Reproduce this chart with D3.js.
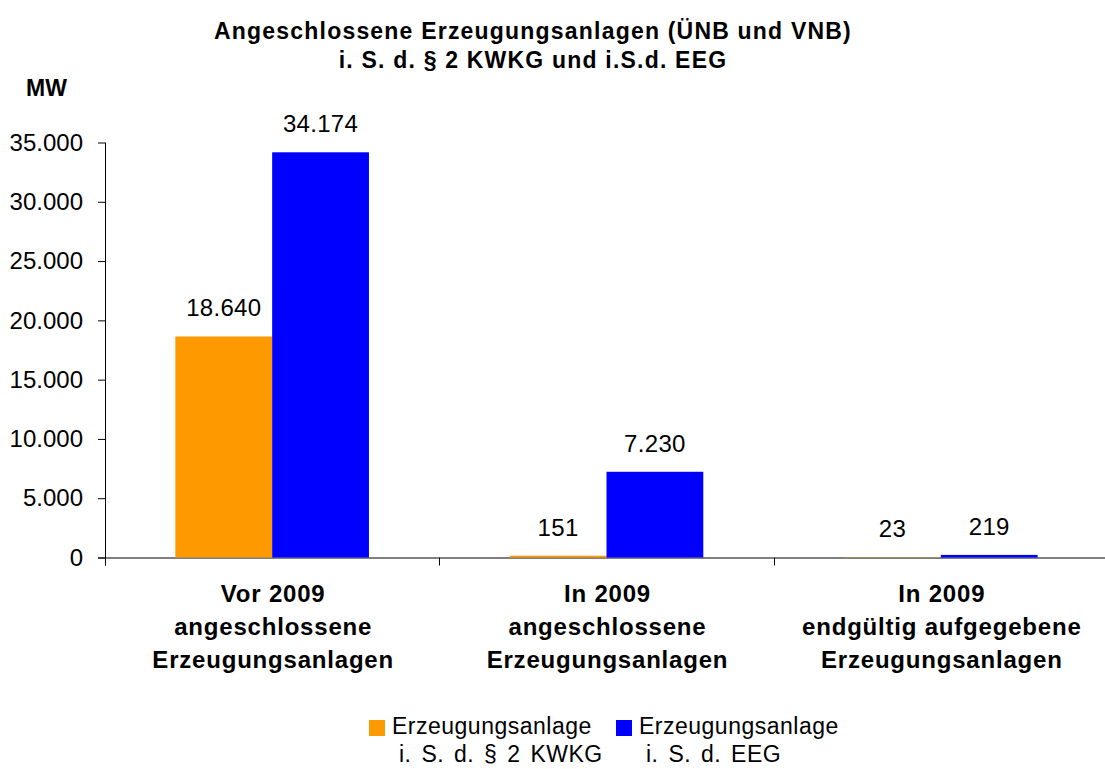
<!DOCTYPE html>
<html>
<head>
<meta charset="utf-8">
<script src="https://cdn.jsdelivr.net/npm/d3@7"></script>
<style>
  body { margin: 0; background: #fff; }
  text { font-family: "Liberation Sans", Arial, sans-serif; fill: #000; }
</style>
</head>
<body>
<div id="chart"></div>
<script>
var categories = [
  ["Vor 2009", "angeschlossene", "Erzeugungsanlagen"],
  ["In 2009", "angeschlossene", "Erzeugungsanlagen"],
  ["In 2009", "endgültig aufgegebene", "Erzeugungsanlagen"]
];
var seriesNames = [
  ["Erzeugungsanlage", "i. S. d. § 2 KWKG"],
  ["Erzeugungsanlage", "i. S. d. EEG"]
];
var kwkg = [18640, 151, 23];
var eeg = [34174, 7230, 219];
var yTicks = [0, 5000, 10000, 15000, 20000, 25000, 30000, 35000];
var colors = ["#FF9900", "#0000FF"];

var svg = d3.select("#chart")
  .append("svg")
  .attr("width", 1105)
  .attr("height", 769);

var margin = {top: 142.5, right: -3, bottom: 211.5, left: 105},
    width = +svg.attr("width"),
    height = +svg.attr("height");

var fmt = function(v) { return d3.format(",")(v).replace(/,/g, "."); };

var x = d3.scaleBand()
    .domain(d3.range(categories.length))
    .range([margin.left, width - margin.right])
    .padding(0);

var xs = d3.scaleBand()
    .domain([0, 1])
    .range([0, x.bandwidth()])
    .paddingInner(0)
    .paddingOuter(0.727);

var y = d3.scaleLinear()
    .domain([0, 35000])
    .range([height - margin.bottom, margin.top]);

// title
svg.append("text")
    .attr("x", 533)
    .attr("y", 39)
    .attr("text-anchor", "middle")
    .attr("font-size", 23)
    .attr("font-weight", "bold")
    .attr("letter-spacing", 1.2)
    .selectAll("tspan")
    .data(["Angeschlossene Erzeugungsanlagen (ÜNB und VNB)", "i. S. d. § 2 KWKG und i.S.d. EEG"])
    .enter().append("tspan")
      .attr("x", 533)
      .attr("dy", function(d, i) { return i ? 29 : 0; })
      .text(function(d) { return d; });

svg.append("text")
    .attr("x", 26)
    .attr("y", 96)
    .attr("font-size", 23)
    .attr("font-weight", "bold")
    .text("MW");

// y axis
var yAxis = svg.append("g")
    .attr("transform", "translate(" + margin.left + ",0)")
    .call(d3.axisLeft(y).tickValues(yTicks).tickFormat(fmt).tickSize(7).tickPadding(15));
yAxis.select(".domain").attr("d", "M0.5," + y(35000) + "V" + (y(0) + 8));
yAxis.selectAll("text")
    .attr("font-size", 24)
    .attr("font-family", null);

// x axis
var xAxis = svg.append("g")
    .attr("transform", "translate(0," + y(0) + ")");
xAxis.append("line")
    .attr("x1", margin.left - 7).attr("x2", width)
    .attr("y1", 0.5).attr("y2", 0.5)
    .attr("stroke", "#000");
xAxis.selectAll("line.tick")
    .data(d3.range(categories.length))
    .enter().append("line")
      .attr("class", "tick")
      .attr("x1", function(d) { return Math.round(x(d)) + 0.5; })
      .attr("x2", function(d) { return Math.round(x(d)) + 0.5; })
      .attr("y1", 0).attr("y2", 8)
      .attr("stroke", "#000");

// bars
var groups = svg.selectAll("g.grp")
    .data(categories.map(function(c, i) { return [kwkg[i], eeg[i]]; }))
    .enter().append("g")
      .attr("class", "grp")
      .attr("transform", function(d, i) { return "translate(" + x(i) + ",0)"; });

groups.selectAll("rect")
    .data(function(d) { return d; })
    .enter().append("rect")
      .attr("x", function(d, j) { return xs(j); })
      .attr("y", function(d) { return y(d); })
      .attr("width", xs.bandwidth())
      .attr("height", function(d) { return y(0) - y(d); })
      .attr("fill", function(d, j) { return colors[j]; });

groups.selectAll("text.val")
    .data(function(d) { return d; })
    .enter().append("text")
      .attr("class", "val")
      .attr("x", function(d, j) { return xs(j) + xs.bandwidth() / 2; })
      .attr("y", function(d) { return y(d) - 20; })
      .attr("text-anchor", "middle")
      .attr("font-size", 24)
      .attr("letter-spacing", 0.3)
      .text(fmt);

// category labels
svg.selectAll("text.cat")
    .data(categories)
    .enter().append("text")
      .attr("class", "cat")
      .attr("text-anchor", "middle")
      .attr("font-size", 24)
      .attr("font-weight", "bold")
      .attr("letter-spacing", 0.8)
      .attr("y", 602)
      .each(function(lines, i) {
        d3.select(this).selectAll("tspan")
          .data(lines)
          .enter().append("tspan")
            .attr("x", x(i) + x.bandwidth() / 2 + 1)
            .attr("dy", function(d, k) { return k ? 33 : 0; })
            .text(function(d) { return d; });
      });

// legend
var legend = svg.selectAll("g.leg")
    .data(seriesNames)
    .enter().append("g")
      .attr("class", "leg")
      .attr("transform", function(d, i) { return "translate(" + (369 + i * 247) + ",720)"; });

legend.append("rect")
    .attr("width", 16).attr("height", 16)
    .attr("fill", function(d, i) { return colors[i]; });

legend.append("text")
    .attr("font-size", 23)
    .attr("letter-spacing", 0.5)
    .attr("word-spacing", 3)
    .each(function(lines) {
      d3.select(this).selectAll("tspan")
        .data(lines)
        .enter().append("tspan")
          .attr("x", function(d, k) { return k ? 30 : 23; })
          .attr("y", function(d, k) { return k ? 42 : 14; })
          .text(function(d) { return d; });
    });
</script>
</body>
</html>
